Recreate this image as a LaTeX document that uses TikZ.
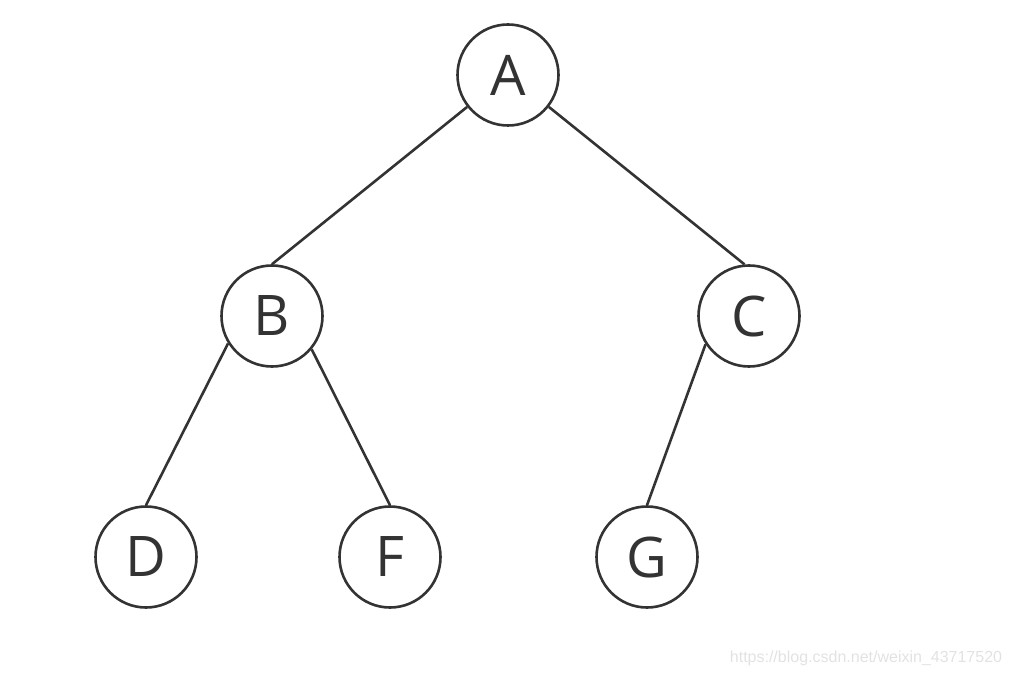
\documentclass[tikz,border=0pt]{standalone}
\usepackage{fontspec}
\setmainfont{Open Sans}
\newfontfamily\wmfont{Liberation Sans}
\definecolor{ink}{HTML}{333333}
\definecolor{wm}{HTML}{E2E2E2}
\begin{document}
\begin{tikzpicture}[x=1pt,y=-1pt,
  tnode/.style={circle,draw=ink,line width=2.6pt,minimum size=101pt,inner sep=0pt,
    text=ink,font=\fontsize{56}{60}\selectfont},
  edge/.style={draw=ink,line width=2.6pt}]
\useasboundingbox (0,0) rectangle (1011,676);
\node[tnode] (A) at (508,75) {A};
\node[tnode] (B) at (272,316) {B};
\node[tnode] (C) at (749,316) {C};
\node[tnode] (D) at (146,557) {D};
\node[tnode] (F) at (390,557) {F};
\node[tnode] (G) at (647,557) {G};
\draw[edge] (A.218) -- (B.north);
\draw[edge] (A.322) -- (C.95);
\draw[edge] (B.212) -- (D.north);
\draw[edge] (B.320) -- (F.north);
\draw[edge] (C.213) -- (G.north);
\node[text=wm,font=\wmfont\fontsize{16}{18}\selectfont,anchor=base] (wm) at (866,662) {https://blog.csdn.net/weixin\_43717520};
\end{tikzpicture}
\end{document}
